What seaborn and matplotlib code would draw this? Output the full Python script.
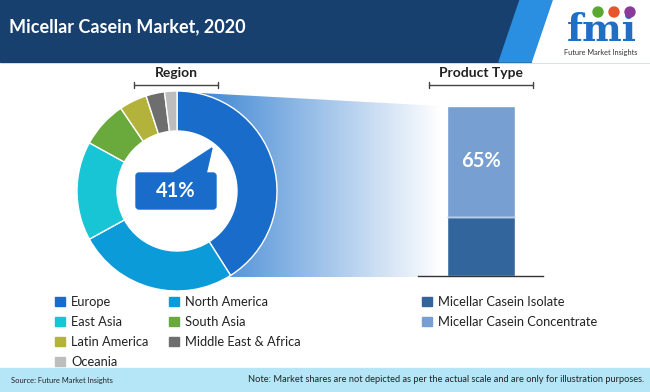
import numpy as np
import pandas as pd
import matplotlib.pyplot as plt
import seaborn as sns
from matplotlib.patches import Rectangle, Polygon, FancyBboxPatch, Patch, Circle

# data
regions = ["Europe", "North America", "East Asia", "South Asia",
           "Latin America", "Middle East & Africa", "Oceania"]
region_share = [41, 26, 16, 7.5, 4.5, 3, 2]
region_colors = ["#1a6ccb", "#0b9bd9", "#17c5d5", "#6aa93b",
                 "#b3b23a", "#6e6e6e", "#bdbdbd"]

products = ["Micellar Casein Isolate", "Micellar Casein Concentrate"]
product_share = [35, 65]
product_colors = ["#31659c", "#789fd2"]

W, H = 650, 392


def fx(px):
    return px / W


def fy(py):
    return 1 - py / H


sns.set_theme(style="white")
plt.rcParams["font.family"] = ["Lato", "DejaVu Sans"]

fig = plt.figure(figsize=(6.5, 3.92), dpi=100)
ax = fig.add_axes([0, 0, 1, 1])
ax.set_xlim(0, W)
ax.set_ylim(H, 0)
ax.axis("off")

# header
ax.add_patch(Rectangle((0, 0), W, 62, color="#17406f", zorder=1))
ax.add_patch(Polygon([(520, 0), (553, 0), (532, 62), (499, 62)], color="#2a8fe0", zorder=2))
ax.add_patch(Polygon([(553, 0), (W, 0), (W, 62), (532, 62)], color="white", zorder=2))
ax.text(9, 27, "Micellar Casein Market, 2020", color="white", fontsize=13,
        fontweight="bold", va="center", ha="left", zorder=3)
ax.text(602, 30, "fmi", color="#1f6fc5", fontsize=27, fontweight="bold",
        family=["DejaVu Serif"], va="center", ha="center", zorder=3)
for cx, col in [(598, "#5aa832"), (614, "#e8542c"), (630, "#8b3a9c")]:
    ax.add_patch(Circle((cx, 12), 5, color=col, zorder=4))
ax.text(601, 52, "Future Market Insights", color="#333333", fontsize=5.3,
        va="center", ha="center", zorder=3)

# footer
ax.add_patch(Rectangle((0, 368), W, H - 368, color="#b5e6f7", zorder=1))
ax.text(11, 380, "Source: Future Market Insights", fontsize=5.4, color="#222222",
        va="center", ha="left")
ax.text(644, 380, "Note: Market shares are not depicted as per the actual scale and are only for illustration purposes.",
        fontsize=6.7, color="#222222", va="center", ha="right")

# gradient funnel between donut and bar
ramp = np.linspace(0, 1, 256)
c0 = np.array([0x3f, 0x86, 0xd3]) / 255
grad = (c0[None, :] * (1 - ramp[:, None]) + ramp[:, None])[None, :, :]
funnel = Polygon([(200, 93), (441, 106), (441, 277), (226, 277)],
                 transform=ax.transData, facecolor="none", edgecolor="none")
ax.add_patch(funnel)
img = ax.imshow(grad, extent=(200, 441, 277, 93), aspect="auto", zorder=1)
img.set_clip_path(funnel)
ax.set_xlim(0, W)
ax.set_ylim(H, 0)

# brackets and section titles
for x0, x1, label in [(134, 218, "Region"), (429, 533, "Product Type")]:
    ax.plot([x0, x1], [85, 85], color="#444444", lw=1)
    ax.plot([x0, x0], [82, 88], color="#444444", lw=1)
    ax.plot([x1, x1], [82, 88], color="#444444", lw=1)
    ax.text((x0 + x1) / 2, 73, label, fontsize=10, fontweight="bold",
            color="#222222", ha="center", va="center")

# donut
ax_d = fig.add_axes([fx(77), fy(291), fx(200), 200 / H])
ax_d.add_patch(Circle((0, 0), 0.61, color="white", zorder=0))
ax_d.pie(region_share, colors=region_colors, startangle=90, counterclock=False,
         wedgeprops=dict(width=0.4, edgecolor="white", linewidth=1))
ax_d.set_xlim(-1, 1)
ax_d.set_ylim(-1, 1)
ax_d.axis("off")
ax_d.patch.set_alpha(0)

# callout on top of the donut hole
ax_c = fig.add_axes([0, 0, 1, 1])
ax_c.set_xlim(0, W)
ax_c.set_ylim(H, 0)
ax_c.axis("off")
ax_c.patch.set_alpha(0)
ax_c.add_patch(FancyBboxPatch((136, 173), 80, 36, boxstyle="round,pad=0,rounding_size=3",
                              color=region_colors[0]))
ax_c.add_patch(Polygon([(172, 174), (206, 174), (212, 148)], color=region_colors[0]))
ax_c.text(176, 191, f"{region_share[0]:.0f}%", color="white", fontsize=14.5,
          fontweight="bold", ha="center", va="center")

# stacked product bar
ax_b = fig.add_axes([fx(418), fy(276), fx(125), 170 / H])
bar_df = pd.DataFrame({"seg": ["total", "isolate"],
                       "value": [sum(product_share), product_share[0]]})
sns.barplot(data=bar_df.iloc[[0]], x=[0], y="value", color=product_colors[1],
            width=0.544, saturation=1, ax=ax_b)
sns.barplot(data=bar_df.iloc[[1]], x=[0], y="value", color=product_colors[0],
            width=0.544, saturation=1, ax=ax_b)
ax_b.hlines(product_share[0], -0.272, 0.272, color="#b7cdea", lw=1)
ax_b.text(0, product_share[0] + product_share[1] / 2, f"{product_share[1]}%",
          color="white", fontsize=14.5, fontweight="bold", ha="center", va="center")
ax_b.set_xlim(-0.5, 0.5)
ax_b.set_ylim(0, 100)
ax_b.set_xticks([])
ax_b.set_yticks([])
ax_b.set_xlabel("")
ax_b.set_ylabel("")
ax_b.patch.set_alpha(0)
for s in ["top", "left", "right"]:
    ax_b.spines[s].set_visible(False)
ax_b.spines["bottom"].set_color("#333333")
ax_b.spines["bottom"].set_linewidth(1)

# legends
leg_kw = dict(loc="upper left", frameon=False, fontsize=9.3, borderpad=0,
              borderaxespad=0, handlelength=0.8, handleheight=0.8,
              handletextpad=0.45, labelspacing=0.62)
col1 = [0, 2, 4, 6]
col2 = [1, 3, 5]
for idxs, x in [(col1, 55), (col2, 169)]:
    handles = [Patch(color=region_colors[i], label=regions[i]) for i in idxs]
    leg = fig.legend(handles=handles, bbox_to_anchor=(fx(x), fy(296)), **leg_kw)
    for t in leg.get_texts():
        t.set_color("#222222")
handles = [Patch(color=c, label=p) for p, c in zip(products, product_colors)]
leg = fig.legend(handles=handles, bbox_to_anchor=(fx(422), fy(296)), **leg_kw)
for t in leg.get_texts():
    t.set_color("#222222")

fig.savefig("out.png", dpi=100)
